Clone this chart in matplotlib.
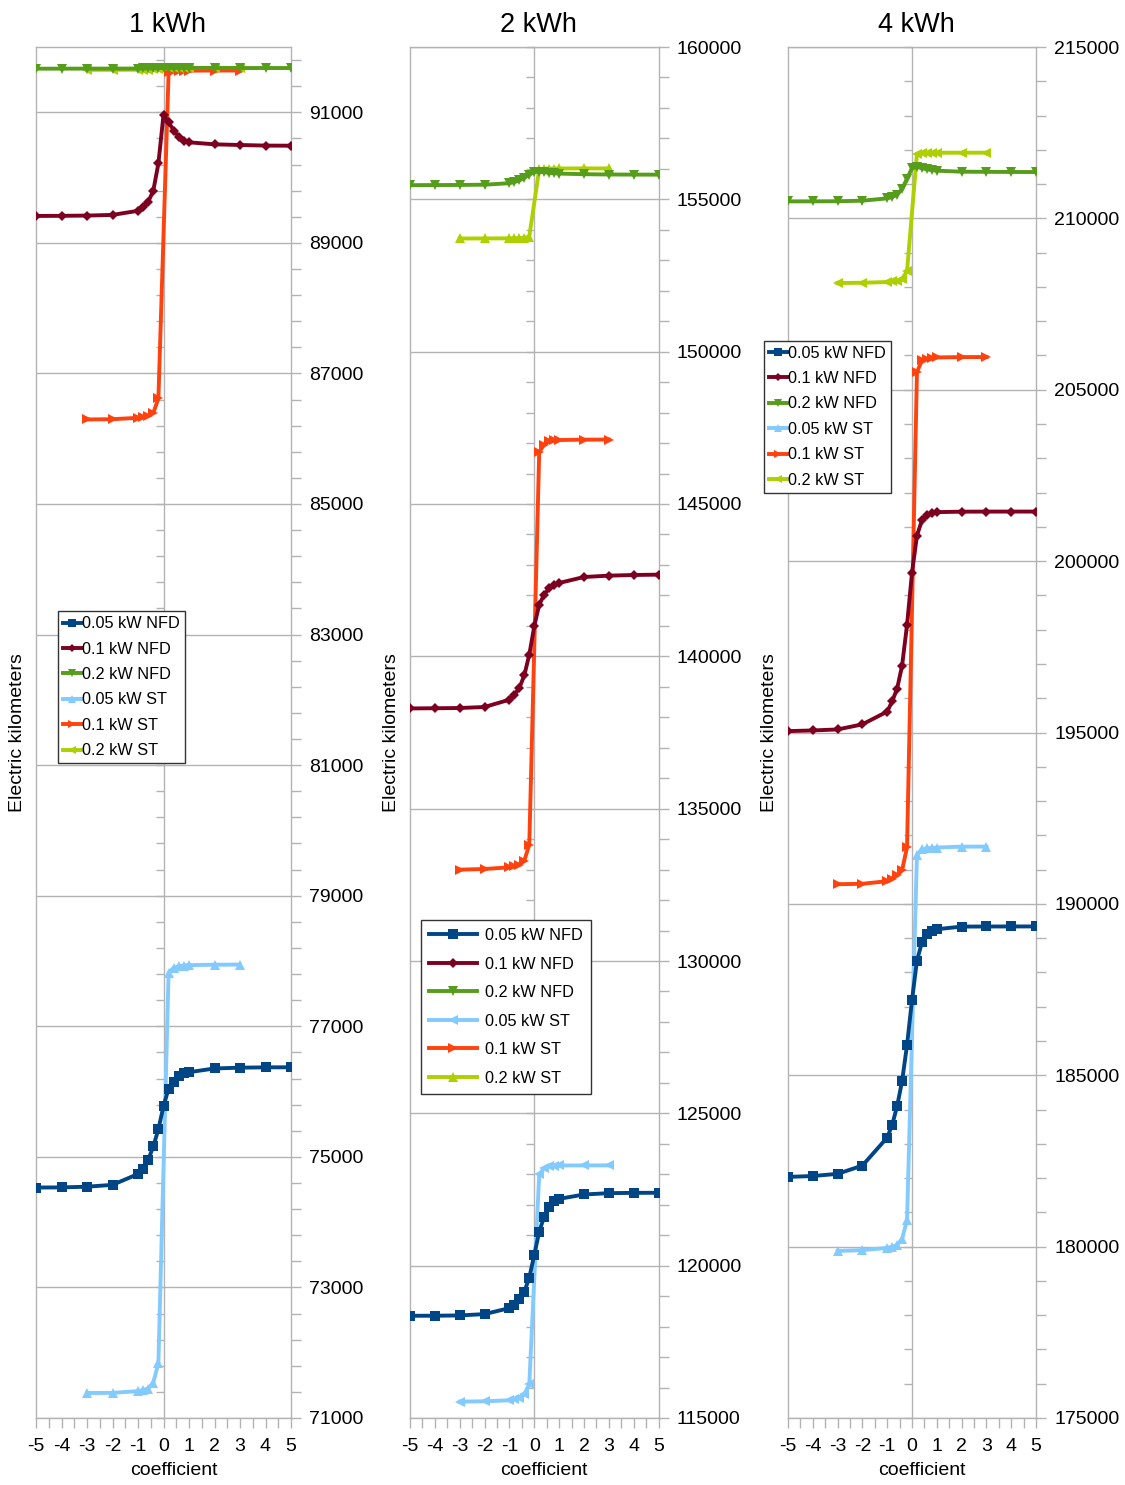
import numpy as np
import matplotlib
matplotlib.use("Agg")
import matplotlib.pyplot as plt
from matplotlib.ticker import FixedLocator, FuncFormatter

plt.rcParams['font.family'] = ['Liberation Sans', 'DejaVu Sans']
plt.rcParams['axes.unicode_minus'] = False

# ---------------------------------------------------------------- data
x_nfd = [-5, -4, -3, -2, -1, -0.8, -0.6, -0.4, -0.2, 0, 0.2, 0.4, 0.6, 0.8, 1, 2, 3, 4, 5]
x_st = [-3, -2, -1, -0.8, -0.6, -0.4, -0.2, 0.2, 0.4, 0.6, 0.8, 1, 2, 3]

labels = ['0.05 kW NFD', '0.1 kW NFD', '0.2 kW NFD', '0.05 kW ST', '0.1 kW ST', '0.2 kW ST']
titles = ['1 kWh', '2 kWh', '4 kWh']

# 1 kWh battery
nfd005_1 = [74530, 74532, 74543, 74571, 74737, 74811, 74954, 75160, 75423, 75777,
            76046, 76154, 76240, 76280, 76297, 76354, 76366, 76371, 76372]
nfd01_1 = [89412, 89414, 89418, 89428, 89491, 89552, 89629, 89798, 90217, 90960,
           90850, 90719, 90627, 90565, 90540, 90509, 90499, 90490, 90488]
nfd02_1 = [91668, 91668, 91669, 91669, 91670, 91671, 91672, 91674, 91677, 91680,
           91682, 91681, 91680, 91679, 91679, 91678, 91678, 91678, 91678]
st005_1 = [71383, 71385, 71411, 71429, 71451, 71543, 71840,
           77823, 77897, 77920, 77931, 77937, 77943, 77945]
st01_1 = [86295, 86299, 86320, 86335, 86350, 86396, 86616,
          91610, 91625, 91632, 91636, 91638, 91640, 91640]
st02_1 = [91650, 91651, 91652, 91653, 91654, 91656, 91660,
          91676, 91678, 91679, 91680, 91680, 91680, 91680]

# 2 kWh battery
nfd005_2 = [118355, 118357, 118366, 118410, 118607, 118717, 118904, 119145, 119605, 120351,
            121118, 121612, 121941, 122116, 122193, 122336, 122380, 122390, 122392]
nfd01_2 = [138290, 138296, 138304, 138337, 138577, 138742, 138961, 139376, 140054, 140985,
           141696, 142024, 142243, 142352, 142407, 142604, 142648, 142670, 142681]
nfd02_2 = [155465, 155468, 155472, 155480, 155530, 155570, 155620, 155710, 155810, 155900,
           155910, 155890, 155870, 155855, 155845, 155825, 155815, 155812, 155810]
st005_2 = [115537, 115548, 115581, 115610, 115669, 115779, 116107,
           122993, 123202, 123268, 123280, 123289, 123290, 123292]
st01_2 = [132998, 133020, 133074, 133110, 133162, 133293, 133818,
          146707, 146947, 147057, 147090, 147100, 147112, 147115]
st02_2 = [153715, 153716, 153720, 153722, 153725, 153732, 153780,
          155990, 156005, 156010, 156012, 156013, 156015, 156015]

# 4 kWh battery
nfd005_3 = [182034, 182060, 182123, 182365, 183181, 183551, 184099, 184825, 185883, 187196,
            188343, 188878, 189133, 189222, 189261, 189337, 189340, 189341, 189342]
nfd01_3 = [195040, 195060, 195089, 195238, 195610, 195908, 196280, 196949, 198140, 199658,
           200744, 201190, 201339, 201414, 201429, 201443, 201445, 201446, 201446]
nfd02_3 = [210496, 210497, 210500, 210516, 210584, 210623, 210691, 210866, 211158, 211469,
           211498, 211469, 211430, 211410, 211391, 211362, 211358, 211354, 211352]
st005_3 = [179873, 179898, 179962, 180000, 180046, 180212, 180785,
           191428, 191593, 191620, 191635, 191644, 191670, 191672]
st01_3 = [190574, 190586, 190663, 190740, 190828, 190981, 191657,
          205515, 205856, 205905, 205930, 205943, 205953, 205955]
st02_3 = [208113, 208122, 208142, 208160, 208181, 208230, 208463,
          211887, 211907, 211912, 211914, 211916, 211916, 211917]

nfd_data = [[nfd005_1, nfd01_1, nfd02_1], [nfd005_2, nfd01_2, nfd02_2], [nfd005_3, nfd01_3, nfd02_3]]
st_data = [[st005_1, st01_1, st02_1], [st005_2, st01_2, st02_2], [st005_3, st01_3, st02_3]]

y_limits = [(71000, 92000), (115000, 160000), (175000, 215000)]
y_major = [2000, 5000, 5000]
y_minor = [400, 1000, 1000]

# ---------------------------------------------------------------- style
colors = ['#004586', '#7e0021', '#579d1c', '#83caff', '#ff420e', '#aecf00']
nfd_markers = ['s', 'D', 'v']
st_markers = [['^', '>', '<'], ['<', '>', '^'], ['^', '>', '<']]
nfd_msize = [7.5, 5, 7]
LW = 2.8
GRID = '#b3b3b3'

W, H = 1125, 1485
fig = plt.figure(figsize=(W / 100, H / 100), dpi=100)

# axes frames in pixels: left, top, right, bottom
frames = [(36, 47, 291, 1418), (410, 47, 658.5, 1418), (788, 47, 1036, 1418)]
# legend upper-left corners in pixels
legend_corners = [(57.5, 611), (420.5, 920), (763.5, 340.5)]


def px_rect(l, t, r, b):
    return [l / W, 1 - b / H, (r - l) / W, (b - t) / H]


for i in range(3):
    ax = fig.add_axes(px_rect(*frames[i]))
    ymin, ymax = y_limits[i]
    width_px = frames[i][2] - frames[i][0]

    handles = [None] * 6
    # single-tariff runs sit beneath the no-fast-discharge runs
    for k in range(3):
        ln, = ax.plot(x_st, st_data[i][k], color=colors[3 + k], lw=LW,
                      marker=st_markers[i][k], markersize=7.5, markeredgewidth=0,
                      zorder=3 + k, solid_joinstyle='round')
        handles[3 + k] = ln
    for k in range(3):
        ln, = ax.plot(x_nfd, nfd_data[i][k], color=colors[k], lw=LW,
                      marker=nfd_markers[k], markersize=nfd_msize[k], markeredgewidth=0,
                      zorder=6 + k, solid_joinstyle='round')
        handles[k] = ln

    ax.set_xlim(-5, 5)
    ax.set_ylim(ymin, ymax)

    # y axis: labels on the right, grid at major steps
    ax.yaxis.tick_right()
    ax.yaxis.set_major_locator(FixedLocator(np.arange(ymin, ymax + 1, y_major[i])))
    ax.yaxis.set_minor_locator(FixedLocator(np.arange(ymin, ymax + 1, y_minor[i])))
    ax.yaxis.set_major_formatter(FuncFormatter(lambda v, p: f'{v:.0f}'))
    ax.tick_params(axis='y', which='both', direction='out', length=7, width=1,
                   color=GRID, labelsize=14, pad=6)
    ax.grid(axis='y', which='major', color=GRID, lw=1)
    ax.set_axisbelow(True)

    # x axis
    ax.xaxis.set_major_locator(FixedLocator(np.arange(-5, 6, 1)))
    ax.xaxis.set_minor_locator(FixedLocator(np.arange(-5, 5.01, 0.5)))
    ax.xaxis.set_major_formatter(FuncFormatter(lambda v, p: f'{v:.0f}'))
    ax.tick_params(axis='x', which='both', direction='out', length=7, width=1,
                   color=GRID, labelsize=14, pad=7.5)
    ax.set_xlabel('coefficient', fontsize=14, labelpad=5, x=0.5 + 10 / width_px)

    for s in ax.spines.values():
        s.set_color(GRID)
        s.set_linewidth(1)

    # vertical axis line at x = 0 with inward ticks
    sec = ax.secondary_yaxis(0.5)
    sec.yaxis.set_major_locator(FixedLocator(np.arange(ymin, ymax + 1, y_major[i])))
    sec.yaxis.set_minor_locator(FixedLocator(np.arange(ymin, ymax + 1, y_minor[i])))
    sec.tick_params(which='both', direction='in', length=6, width=1, color=GRID,
                    labelleft=False, labelright=False)
    for s in sec.spines.values():
        s.set_color(GRID)
        s.set_linewidth(1)

    ax.yaxis.set_label_position('left')
    ax.set_ylabel('Electric kilometers', fontsize=14, va='center')
    ax.yaxis.set_label_coords(-18 / width_px, 0.5)

    ax.set_title(titles[i], fontsize=19.5, pad=11, x=0.5 + 4 / width_px)

    lx, ly = legend_corners[i]
    if i == 1:
        leg_kw = dict(handlelength=3.0, handletextpad=0.45, labelspacing=0.83,
                      borderpad=0.5, markerscale=1.0, borderaxespad=0)
    else:
        leg_kw = dict(handlelength=1.1, handletextpad=0.1, labelspacing=0.64,
                      borderpad=0.32, markerscale=0.75, borderaxespad=0)
    leg = ax.legend(handles, labels, loc='upper left',
                    bbox_to_anchor=(lx / W, 1 - ly / H), bbox_transform=fig.transFigure,
                    fontsize=11.7, fancybox=False, framealpha=1, edgecolor='#333333',
                    **leg_kw)
    leg.get_frame().set_linewidth(1)
    leg.set_zorder(20)

fig.savefig('out.png', dpi=100)
